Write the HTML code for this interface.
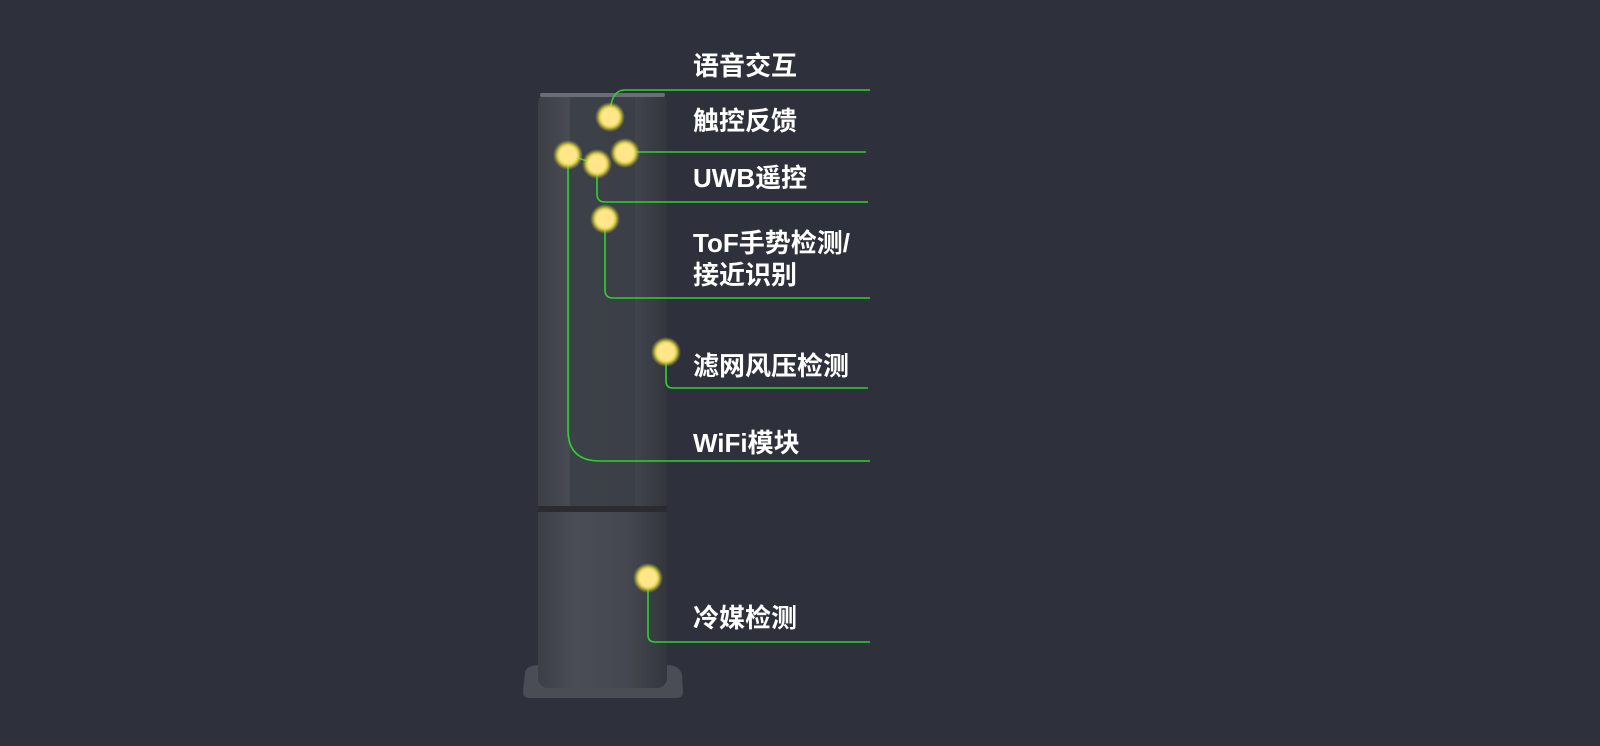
<!DOCTYPE html>
<html><head><meta charset="utf-8"><style>
body{margin:0;width:1600px;height:746px;background:#2e313b;overflow:hidden;position:relative;font-family:"Liberation Sans","Noto Sans CJK SC",sans-serif;}
.t{position:absolute;left:693px;color:#fff;font-weight:bold;font-size:26px;line-height:32px;white-space:nowrap;}
</style></head><body>
<svg width="1600" height="746" style="position:absolute;left:0;top:0">
<defs>
<linearGradient id="g" x1="0" x2="1"><stop offset="0" stop-color="#3c3f46"/><stop offset="0.3" stop-color="#4a4d55"/><stop offset="0.7" stop-color="#44474f"/><stop offset="1" stop-color="#33363d"/></linearGradient>
<radialGradient id="dot"><stop offset="0.55" stop-color="#ffe68a"/><stop offset="0.7" stop-color="#d8cf4a"/><stop offset="1" stop-color="#b8b030" stop-opacity="0"/></radialGradient>
</defs>
<path d="M525 672 Q527 665 540 665 L666 665 Q680 665 682 675 L683 692 Q683 698 676 698 L530 698 Q523 698 523 692 Z" fill="#4a4d55"/>
<rect x="538" y="93" width="129" height="595" rx="10" fill="url(#g)"/>
<rect x="570" y="96" width="65" height="410" fill="#3a3d45" opacity="0.8"/>
<rect x="538" y="506" width="129" height="6" fill="#2a2c32"/>
<rect x="540" y="93" width="125" height="4" rx="2" fill="#6a6d75"/>
<g fill="none" stroke="#2fd12f" stroke-width="1.6">
<path d="M610 117 Q610 90 625 90 L870 90"/>
<path d="M625 152 L866 152"/>
<path d="M568 155 L597 164"/>
<path d="M597 164 L597 194 Q597 202 605 202 L868 202"/>
<path d="M605 219 L605 290 Q605 298 613 298 L870 298"/>
<path d="M666 352 L666 381 Q666 388 673 388 L868 388"/>
<path d="M568 155 L568 430 Q568 461 600 461 L870 461"/>
<path d="M648 578 L648 635 Q648 642 655 642 L870 642"/>
</g>
<g fill="url(#dot)">
<circle cx="610" cy="117" r="15"/><circle cx="568" cy="155" r="15"/><circle cx="597" cy="164" r="15"/><circle cx="625" cy="153" r="15"/><circle cx="605" cy="219" r="15"/><circle cx="666" cy="352" r="15"/><circle cx="648" cy="578" r="15"/>
</g>
</svg>
<div class="t" style="top:50px">语音交互</div>
<div class="t" style="top:105px">触控反馈</div>
<div class="t" style="top:162px">UWB遥控</div>
<div class="t" style="top:227px">ToF手势检测/<br>接近识别</div>
<div class="t" style="top:350px">滤网风压检测</div>
<div class="t" style="top:427px">WiFi模块</div>
<div class="t" style="top:602px">冷媒检测</div>
</body></html>
